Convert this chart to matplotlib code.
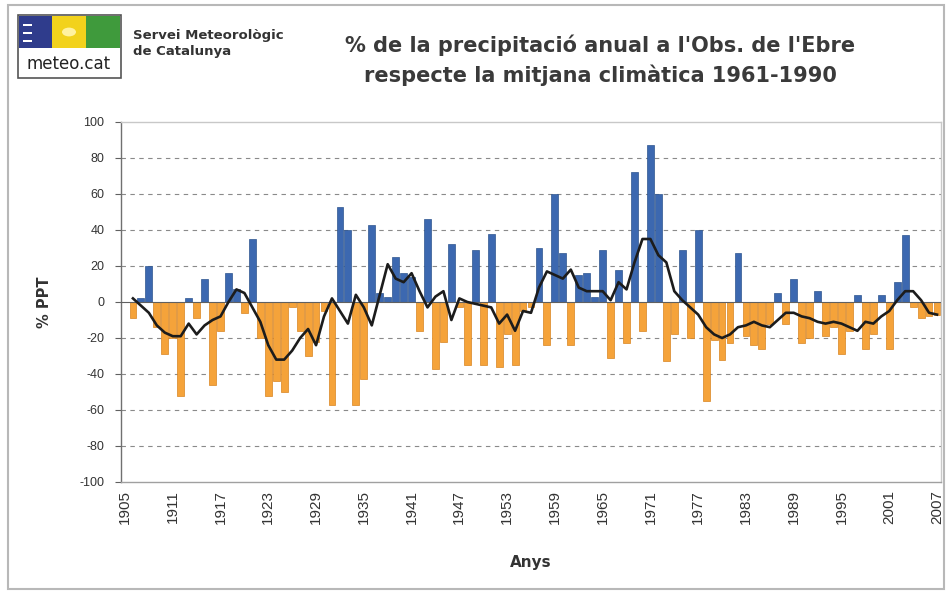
import matplotlib
matplotlib.use("Agg")
import matplotlib.pyplot as plt
import numpy as np
from matplotlib.patches import Rectangle, Circle

plt.rcParams['font.family'] = ['Liberation Sans', 'DejaVu Sans']

# ---- data ----
years = list(range(1905, 2008))
ppt_pct = [
    0, -9, 2, 20, -14, -29, -20, -52, 2, -9,          # 1905-1914
    13, -46, -16, 16, 7, -6, 35, -20, -52, -44,       # 1915-1924
    -50, -3, -16, -30, -22, -5, -57, 53, 40, -57,     # 1925-1934
    -43, 43, 5, 3, 25, 16, 14, -16, 46, -37,          # 1935-1944
    -22, 32, -3, -35, 29, -35, 38, -36, -18, -35,     # 1945-1954
    -5, -3, 30, -24, 60, 27, -24, 15, 16, 3,          # 1955-1964
    29, -31, 18, -23, 72, -16, 87, 60, -33, -18,      # 1965-1974
    29, -20, 40, -55, -21, -32, -23, 27, -19, -24,    # 1975-1984
    -26, -12, 5, -12, 13, -23, -20, 6, -19, -14,      # 1985-1994
    -29, -16, 4, -26, -18, 4, -26, 11, 37, -3,        # 1995-2004
    -9, -8, -7,                                       # 2005-2007
]
smooth = [
    np.nan, 2, -2, -6, -13, -17, -19, -19, -12, -18,  # 1905-1914
    -13, -10, -8, 0, 7, 5, -3, -11, -24, -32,         # 1915-1924
    -32, -27, -20, -15, -24, -8, 2, -5, -12, 4,       # 1925-1934
    -3, -13, 4, 21, 13, 11, 16, 6, -3, 3,             # 1935-1944
    6, -10, 2, 0, -1, -2, -3, -12, -7, -16,           # 1945-1954
    -5, -6, 8, 17, 15, 13, 18, 8, 6, 6,               # 1955-1964
    6, 1, 11, 7, 22, 35, 35, 26, 22, 6,               # 1965-1974
    1, -3, -7, -14, -18, -20, -18, -14, -13, -11,     # 1975-1984
    -13, -14, -10, -6, -6, -8, -9, -11, -12, -11,     # 1985-1994
    -12, -14, -16, -11, -12, -8, -5, 1, 6, 6,         # 1995-2004
    1, -6, -7,                                        # 2005-2007
]
year_ticks = list(range(1905, 2008, 6))
y_ticks = list(range(-100, 101, 20))

title_lines = ["% de la precipitació anual a l'Obs. de l'Ebre",
               "respecte la mitjana climàtica 1961-1990"]

# ---- figure ----
W, H = 946, 595
fig = plt.figure(figsize=(W / 100, H / 100), dpi=100)
fig.patch.set_facecolor('white')

def fx(px):
    return px / W

def fy(py):
    return 1 - py / H

WIDE = ['DejaVu Sans']

# outer frame
fig.patches.append(Rectangle((fx(8), fy(589)), fx(936), 584 / H, transform=fig.transFigure,
                             fill=False, edgecolor='#b8b8b8', lw=1.5, zorder=0))

ax = fig.add_axes([fx(121), fy(482), (941 - 121) / W, (482 - 122) / H])

pos_col, neg_col = '#3c68b0', '#f5a33a'
pos_edge, neg_edge = '#2e558f', '#d98420'
colors = [pos_col if v >= 0 else neg_col for v in ppt_pct]
edges = [pos_edge if v >= 0 else neg_edge for v in ppt_pct]
ax.bar(years, ppt_pct, width=0.86, color=colors, edgecolor=edges, linewidth=0.5, zorder=2)
ax.plot(years, smooth, color='#1c1c1c', lw=1.9, zorder=4)

for yv in y_ticks:
    if yv not in (-100, 0, 100):
        ax.axhline(yv, color='#8a8a8a', lw=0.8, ls=(0, (4, 4)), zorder=1)
ax.axhline(0, color='#606060', lw=0.8, zorder=3)

ax.set_xlim(1904.5, 2007.5)
ax.set_ylim(-100, 100)
ax.set_yticks(y_ticks)
ax.set_yticklabels([str(v) for v in y_ticks], fontsize=9, color='#333333')
ax.set_xticks(year_ticks)
ax.set_xticklabels([str(v) for v in year_ticks], rotation=90, fontsize=11, color='#333333')
ax.tick_params(axis='x', length=0, pad=6)
ax.tick_params(axis='y', length=4, width=0.8, color='#606060', pad=8)

for s in ['top', 'right']:
    ax.spines[s].set_color('#c8c8c8')
    ax.spines[s].set_linewidth(1.0)
ax.spines['left'].set_color('#707070')
ax.spines['bottom'].set_color('#a0a0a0')
ax.spines['left'].set_linewidth(1.0)
ax.spines['bottom'].set_linewidth(1.0)

ax.set_ylabel('% PPT', fontsize=10.5, fontweight='bold', color='#333333', labelpad=20,
              family=WIDE)
ax.set_xlabel('Anys', fontsize=11, fontweight='bold', color='#333333', labelpad=22,
              family=WIDE)

# title
fig.text(fx(600), fy(45), title_lines[0], ha='center', va='center', fontsize=15,
         fontweight='bold', color='#3a3a3a', family=WIDE)
fig.text(fx(600), fy(75), title_lines[1], ha='center', va='center', fontsize=15,
         fontweight='bold', color='#3a3a3a', family=WIDE)

# logo
fig.patches.append(Rectangle((fx(18), fy(78)), fx(103), 63 / H, transform=fig.transFigure,
                             facecolor='white', edgecolor='#555555', lw=1.2, zorder=1))
for x0, c in [(19, '#2f3c8c'), (52, '#f2d21c'), (86, '#3f9a3c')]:
    fig.patches.append(Rectangle((fx(x0), fy(48)), fx(34), 32 / H, transform=fig.transFigure,
                                 facecolor=c, edgecolor='none', zorder=2))
for yy in (24, 32, 40):
    fig.patches.append(Rectangle((fx(23), fy(yy + 2)), fx(9), 2.5 / H, transform=fig.transFigure,
                                 facecolor='white', edgecolor='none', zorder=3))
fig.patches.append(Circle((fx(69), fy(32)), 7 / W, transform=fig.transFigure,
                          facecolor='#fff2a0', edgecolor='none', zorder=3))
fig.text(fx(69), fy(64), 'meteo.cat', ha='center', va='center', fontsize=12,
         color='#222222', zorder=4, family=WIDE)
fig.text(fx(133), fy(36), 'Servei Meteorològic', ha='left', va='center', fontsize=9.5,
         fontweight='bold', color='#333333', family=WIDE)
fig.text(fx(133), fy(51), 'de Catalunya', ha='left', va='center', fontsize=9.5,
         fontweight='bold', color='#333333', family=WIDE)

fig.savefig('out.png', dpi=100, facecolor='white')
